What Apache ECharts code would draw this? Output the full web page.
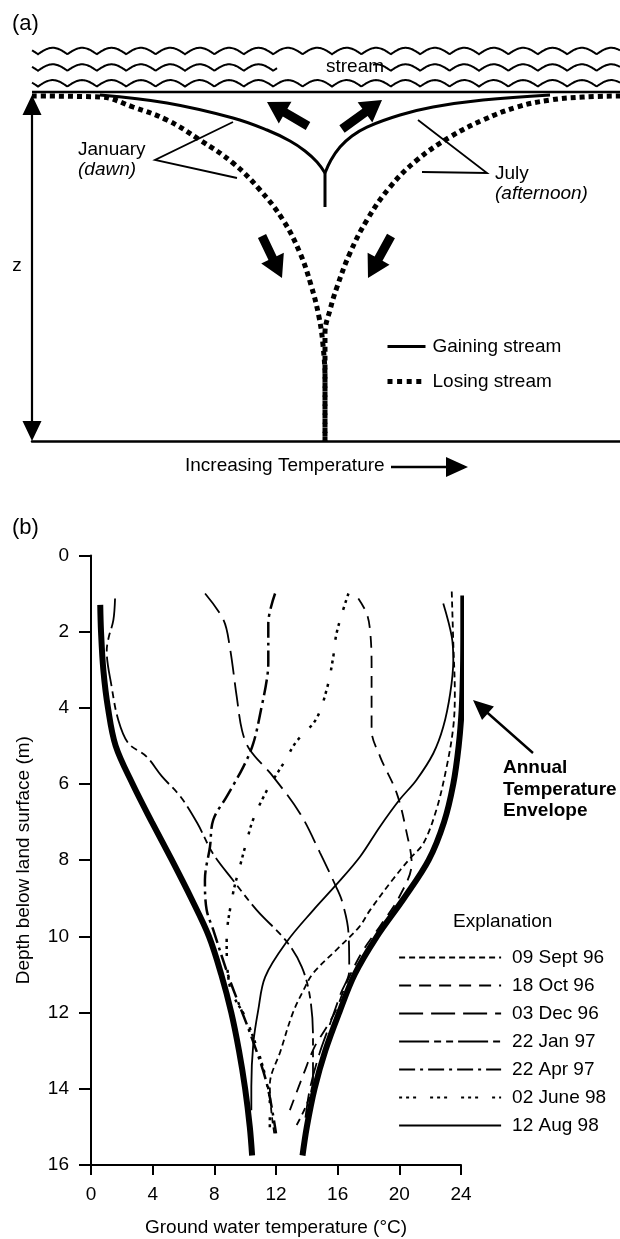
<!DOCTYPE html>
<html>
<head>
<meta charset="utf-8">
<script src="https://cdn.jsdelivr.net/npm/echarts@6/dist/echarts.min.js"></script>
<style>
html,body{margin:0;padding:0;background:#fff;}
#chart{width:620px;height:1239px;}
</style>
</head>
<body>
<div id="chart"></div>
<script>
// ===================== DATA =====================
// Panel (b): ground-water temperature profiles, [temperature °C, depth m]
const tempTicks = [0, 4, 8, 12, 16, 20, 24];
const depthTicks = [0, 2, 4, 6, 8, 10, 12, 14, 16];

const envelopeCold = [[0.6,1.3],[0.65,2.0],[0.8,3.0],[1.1,4.0],[1.6,5.0],[2.7,6.0],[3.95,7.0],[5.25,8.0],[6.5,9.0],[7.65,10.0],[8.45,11.0],[9.1,12.0],[9.6,13.0],[10.0,14.0],[10.3,15.0],[10.45,15.75]];
const envelopeWarm = [[24.15,1.05],[24.15,2.0],[24.13,3.0],[24.05,4.0],[23.85,5.0],[23.5,6.0],[22.9,7.0],[21.9,8.0],[20.3,9.0],[18.55,10.0],[17.1,11.0],[16.1,12.0],[15.2,13.0],[14.5,14.0],[14.0,15.0],[13.72,15.75]];

const sept96 = [[23.4,0.95],[23.5,2.3],[23.6,3.62],[23.5,4.5],[23.07,5.55],[22.4,6.68],[21.56,7.56],[20.7,7.95],[19.55,8.52],[18.1,9.31],[17.4,9.75],[15.9,10.36],[14.4,10.97],[13.8,11.4],[13.1,12.0],[12.3,13.0],[11.6,13.9],[11.7,14.6],[11.9,15.2]];
const oct96 = [[17.34,1.13],[17.88,1.52],[18.1,1.96],[18.2,2.83],[18.2,4.58],[18.75,5.28],[19.83,6.24],[20.48,7.29],[20.8,8.08],[20.0,8.96],[18.8,9.7],[17.6,10.4],[16.6,11.2],[15.9,11.93],[15.3,12.37],[14.5,12.9],[13.8,13.6],[12.9,14.56]];
const dec96 = [[7.4,1.0],[8.6,1.7],[9.0,2.4],[9.45,3.7],[9.8,4.6],[10.3,5.1],[11.8,5.8],[13.6,6.8],[14.85,7.8],[15.9,8.7],[16.3,9.1],[16.7,9.9],[16.75,10.9],[16.2,11.5],[15.5,12.3],[14.8,13.1],[14.2,14.0],[13.9,14.8]];
const jan97 = [[1.56,1.13],[1.45,1.7],[1.15,2.15],[1.02,2.5],[1.34,3.45],[1.77,4.32],[2.42,4.93],[3.6,5.28],[4.6,5.8],[5.8,6.33],[6.9,7.03],[7.9,7.82],[9.2,8.52],[10.75,9.31],[12.7,10.14],[13.67,10.8],[14.2,11.58],[14.4,12.63],[14.4,13.77],[13.34,14.95]];
const apr97 = [[11.94,1.0],[11.5,1.78],[11.5,2.83],[11.4,3.27],[11.07,3.97],[10.53,4.93],[9.88,5.55],[8.8,6.33],[7.93,6.94],[7.72,7.64],[7.39,8.52],[7.5,9.3],[7.93,9.83],[9.0,11.14],[10.4,12.63],[11.4,13.86],[12.0,15.17]];
const june98 = [[16.7,1.0],[16.3,1.5],[15.9,2.1],[15.7,2.7],[15.3,3.5],[14.6,4.3],[13.3,4.9],[12.5,5.45],[11.8,5.9],[11.2,6.33],[10.5,6.95],[10.1,7.5],[9.7,8.1],[9.2,8.9],[8.8,10.1],[9.0,11.3],[10.1,12.2],[11.2,13.5],[11.6,14.4],[11.6,15.1]];
const aug98 = [[22.85,1.26],[23.4,2.13],[23.5,2.75],[23.3,3.62],[22.85,4.5],[22.2,5.2],[21.1,5.9],[20.0,6.42],[18.74,7.12],[17.45,7.91],[15.94,8.63],[14.42,9.31],[12.7,10.14],[11.3,11.06],[10.85,11.93],[10.53,12.8],[10.4,13.94],[10.4,14.56]];

const profileNames = ['09 Sept 96','18 Oct 96','03 Dec 96','22 Jan 97','22 Apr 97','02 June 98','12 Aug 98'];

// Panel (a): schematic, [relative temperature 0-100, relative depth z 0-100]
const gainingLeft  = [[11.56,0.86],[22.96,3.15],[34.18,7.43],[39.97,10.87],[43.88,14.01],[46.43,16.87],[48.47,20.02],[49.83,23.16]];
const gainingRight = [[49.83,23.16],[50.85,19.45],[52.38,15.73],[54.42,12.58],[56.97,10.01],[62.59,6.58],[68.2,4.29],[76.7,2.29],[88.1,0.86]];
const gainingStem  = [[49.83,23.16],[49.83,32.88]];
const losingLeft  = [[0,1.14],[11.56,1.43],[17.18,4.29],[22.96,8.01],[28.57,13.73],[34.18,20.3],[38.78,28.02],[42.69,36.6],[45.58,46.04],[47.45,55.19],[48.81,64.34],[49.49,72.35],[49.83,82.36],[49.83,100]];
const losingRight = [[49.83,100],[49.83,82.36],[49.83,68.92],[50.68,62.34],[51.87,55.76],[54.08,46.04],[56.97,36.6],[60.88,27.17],[65.48,19.45],[71.09,12.87],[76.7,8.01],[82.48,4.29],[88.1,2.29],[93.71,1.43],[100,1.14]];

// ===================== CHART =====================
const FONT = '"Liberation Sans", Arial, Helvetica, sans-serif';
const chart = echarts.init(document.getElementById('chart'), null, {renderer: 'canvas'});

function prof(name, data, width, dash) {
  return {
    name: name, type: 'line', xAxisIndex: 0, yAxisIndex: 0,
    data: data, symbol: 'none', smooth: 0.35, clip: false,
    itemStyle: {color: '#000'},
    lineStyle: {color: '#000', width: width, type: dash, cap: 'butt'},
    emphasis: {disabled: true}, silent: true
  };
}
function schem(name, data, width, dash, smooth) {
  return {
    name: name, type: 'line', xAxisIndex: 1, yAxisIndex: 1,
    data: data, symbol: 'none', smooth: smooth, clip: false,
    itemStyle: {color: '#000'},
    lineStyle: {color: '#000', width: width, type: dash, cap: 'butt'},
    emphasis: {disabled: true}, silent: true
  };
}

// decorative helpers (schematic drawing)
function arrowPts(tail, tip, sw, hw, hl) {
  const dx = tip[0]-tail[0], dy = tip[1]-tail[1];
  const L = Math.hypot(dx, dy), ux = dx/L, uy = dy/L, nx = -uy, ny = ux;
  const bx = tip[0]-ux*hl, by = tip[1]-uy*hl;
  return [
    [tail[0]+nx*sw/2, tail[1]+ny*sw/2], [bx+nx*sw/2, by+ny*sw/2], [bx+nx*hw/2, by+ny*hw/2],
    [tip[0], tip[1]],
    [bx-nx*hw/2, by-ny*hw/2], [bx-nx*sw/2, by-ny*sw/2], [tail[0]-nx*sw/2, tail[1]-ny*sw/2]
  ];
}
function arrow(tail, tip, sw, hw, hl) {
  return {type: 'polygon', shape: {points: arrowPts(tail, tip, sw, hw, hl)}, style: {fill: '#000', stroke: null}, silent: true, z: 100};
}
function wave(x0, x1, yc) {
  const P = 29.4, A = 3.2, ph = 38;
  const pts = [];
  for (let x = x0; x <= x1 + 0.001; x += 1) {
    const t = ((((x - ph) % P) + P) % P) / P;
    pts.push([x, yc + A - 2*A*Math.sin(Math.PI*t)]);
  }
  return {type: 'polyline', shape: {points: pts}, style: {stroke: '#000', lineWidth: 2, fill: null}, silent: true, z: 100};
}
function txt(s, x, y, opt) {
  opt = opt || {};
  return {type: 'text', x: x, y: y, silent: true, z: 100,
    style: {text: s, fill: '#000', fontSize: opt.size || 19, fontFamily: FONT,
      fontWeight: opt.weight || 'normal', fontStyle: opt.style || 'normal',
      textAlign: opt.align || 'left', textVerticalAlign: 'middle'}};
}
function seg(pts, w) {
  return {type: 'polyline', shape: {points: pts}, style: {stroke: '#000', lineWidth: w, fill: null}, silent: true, z: 100};
}

const graphics = [
  // (a) stream surface
  wave(32, 620, 51), wave(32, 277, 67.5), wave(373, 620, 67.5), wave(32, 620, 83.3),
  seg([[32,92],[620,92]], 2.5),
  // z double arrow
  arrow([32,268],[32,95], 2.2, 19, 20), arrow([32,268],[32,441], 2.2, 19, 20),
  // flow arrows
  arrow([308,126],[267,102], 9, 25, 21), arrow([342,129],[382,100], 9, 25, 21),
  arrow([262,236],[282,278], 9, 25, 22), arrow([391,236],[368,278], 9, 25, 22),
  // pointers
  seg([[233,122],[155,160],[237,178]], 1.8),
  seg([[418,120],[487,173],[422,172]], 1.8),
  txt('(a)', 12, 24, {size: 22}),
  txt('stream', 326, 67),
  txt('January', 78, 150), txt('(dawn)', 78, 170, {style: 'italic'}),
  txt('July', 495, 174), txt('(afternoon)', 495, 194, {style: 'italic'}),
  txt('z', 17, 266, {align: 'center'}),
  txt('Increasing Temperature', 185, 466),
  arrow([391,467],[468,467], 2.4, 20, 22),
  // (b)
  txt('(b)', 12, 528, {size: 22}),
  arrow([533,753],[473,700], 2.4, 18, 20),
  txt('Annual', 503, 768, {weight: 'bold'}),
  txt('Temperature', 503, 790, {weight: 'bold'}),
  txt('Envelope', 503, 811, {weight: 'bold'}),
  txt('Explanation', 453, 922)
];

const profWidths = [1.8, 1.8, 1.8, 1.8, 2.5, 2.5, 1.8];
const profDashes = [[6,4], [12,8], [24,8], [30,5,7,5,7,5], [16,5,3,5], [3,4,3,4,3,14], 'solid'];
const profSeries = [sept96, oct96, dec96, jan97, apr97, june98, aug98];

const option = {
  backgroundColor: '#fff',
  animation: false,
  textStyle: {fontFamily: FONT, color: '#000'},
  grid: [
    {left: 91, top: 555.4, width: 370, height: 609.6, outerBoundsMode: 'none', containLabel: false},
    {left: 32, top: 92, width: 588, height: 349.7, outerBoundsMode: 'none', containLabel: false}
  ],
  xAxis: [
    {type: 'value', gridIndex: 0, min: tempTicks[0], max: tempTicks[tempTicks.length-1], interval: tempTicks[1]-tempTicks[0],
     name: 'Ground water temperature (°C)', nameLocation: 'middle', nameGap: 53,
     nameTextStyle: {fontSize: 19, color: '#000', fontFamily: FONT},
     axisLine: {show: true, onZero: false, lineStyle: {color: '#000', width: 2}},
     axisTick: {show: true, inside: false, length: 10, lineStyle: {color: '#000', width: 2}},
     axisLabel: {fontSize: 19, color: '#000', margin: 20, fontFamily: FONT},
     splitLine: {show: false}},
    {type: 'value', gridIndex: 1, min: 0, max: 100,
     axisLine: {show: true, onZero: false, lineStyle: {color: '#000', width: 2.5}},
     axisTick: {show: false}, axisLabel: {show: false}, splitLine: {show: false}}
  ],
  yAxis: [
    {type: 'value', gridIndex: 0, inverse: true, min: depthTicks[0], max: depthTicks[depthTicks.length-1], interval: depthTicks[1]-depthTicks[0],
     name: 'Depth below land surface (m)', nameLocation: 'middle', nameGap: 58, nameRotate: 90,
     nameTextStyle: {fontSize: 19, color: '#000', fontFamily: FONT},
     axisLine: {show: true, onZero: false, lineStyle: {color: '#000', width: 2}},
     axisTick: {show: true, inside: false, length: 12, lineStyle: {color: '#000', width: 2}},
     axisLabel: {fontSize: 19, color: '#000', margin: 22, fontFamily: FONT},
     splitLine: {show: false}},
    {type: 'value', gridIndex: 1, inverse: true, min: 0, max: 100, show: false, splitLine: {show: false}}
  ],
  legend: [
    {data: profileNames.map((n, i) => ({name: n, lineStyle: {width: Math.min(profWidths[i], 2.2), type: profDashes[i], color: '#000'}})),
     orient: 'vertical', left: 398, top: 948, padding: 0,
     itemWidth: 102, itemHeight: 14, itemGap: 9, selectedMode: false,
     itemStyle: {color: 'rgba(0,0,0,0)', borderWidth: 0, opacity: 0},
     textStyle: {fontSize: 19, color: '#000', fontFamily: FONT, padding: [0,0,0,6]}},
    {data: [{name: 'Gaining stream', lineStyle: {width: 3, type: 'solid', color: '#000'}},
            {name: 'Losing stream', lineStyle: {width: 5, type: [5,4.6], color: '#000', cap: 'butt'}}],
     orient: 'vertical', left: 385, top: 337, padding: 0,
     itemWidth: 38, itemHeight: 14, itemGap: 16, selectedMode: false,
     itemStyle: {color: 'rgba(0,0,0,0)', borderWidth: 0, opacity: 0},
     textStyle: {fontSize: 19, color: '#000', fontFamily: FONT, padding: [0,0,0,2]}}
  ],
  series: [
    prof('envelope', envelopeCold, 6, 'solid'),
    prof('envelope', envelopeWarm, 6, 'solid')
  ].concat(profSeries.map((d, i) => prof(profileNames[i], d, profWidths[i], profDashes[i]))).concat([
    schem('Gaining stream', gainingLeft, 3, 'solid', 0.4),
    schem('Gaining stream', gainingRight, 3, 'solid', 0.4),
    schem('Gaining stream', gainingStem, 3, 'solid', false),
    schem('Losing stream', losingLeft, 5, [5,4], 0.4),
    schem('Losing stream', losingRight, 5, [5,4], 0.4)
  ]),
  graphic: graphics
};
chart.setOption(option);
</script>
</body>
</html>
